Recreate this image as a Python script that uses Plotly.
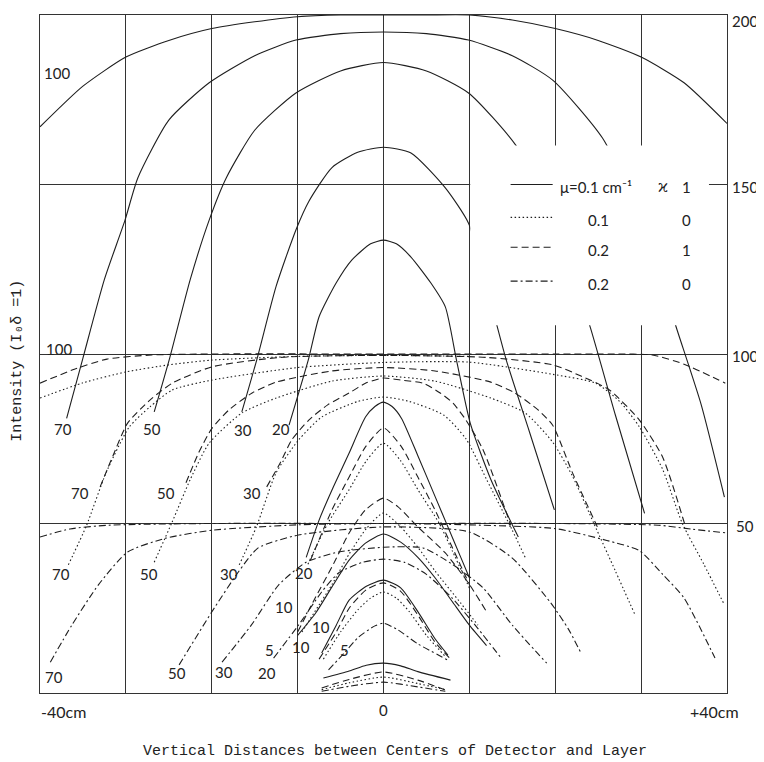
import plotly.graph_objects as go

# ---------------- data (x in cm, value = intensity on chart scale) ----------------
# upper solid family (mu=0.1, kappa=1)
U100_x = [-40, -35, -30, -25, -20, -15, -10, -5, 0, 5, 10, 15, 20, 25, 30, 35, 40]
U100_v = [167, 179, 187.6, 192.5, 196, 198, 199.5, 200, 200, 200, 200, 198.5, 196, 192.5, 187.6, 180, 168]
U70_x = [-36.9, -35, -32.5, -30.1, -28.6, -25, -20.3, -15, -10.2, -5, 0, 5, 9.9, 15, 19.7, 25.5, 30, 34.2, 37, 39.7]
U70_v = [81, 98.8, 122, 139.5, 152, 169, 180, 188, 192.6, 194.5, 195, 194.5, 192.6, 188, 180.8, 163.7, 140, 107, 85, 57.8]
U50_x = [-26.7, -24.9, -22.5, -20.3, -18.3, -15, -10.2, -5, 0, 5, 9.9, 15.4, 20, 24.1, 27, 30.4]
U50_v = [82.9, 98.8, 122, 139.5, 152, 166, 177, 183.5, 186, 183.5, 177, 161.6, 140, 107.7, 82, 53]
U30_x = [-16.5, -14.7, -12.5, -10.2, -8.7, -6, -3, 0, 3.2, 7.2, 9.9, 12, 14.3, 17, 19.9]
U30_v = [82.9, 98.8, 120, 136.6, 145, 155, 159.5, 161, 159.3, 149, 138.6, 120, 98.2, 77, 54]
U20_x = [-11, -8.7, -7.5, -5.5, -3.7, -1.5, 0, 1.5, 3.2, 5.5, 7.2, 8.5, 10.1, 12.5, 15.7]
U20_v = [79, 98.8, 111, 121, 127.7, 132.5, 133.6, 132.5, 128.6, 121, 113.9, 98.2, 79.6, 63, 46]

# middle family: dashed (mu=0.2, kappa=1) and dotted (mu=0.1, kappa=0)
DA100_x = [-40, -36, -32.2, -27, -20, 0, 20, 27, 31.3, 35, 39.8]
DA100_v = [91.4, 95.5, 98.5, 99.7, 100, 100, 100, 100, 99.7, 97, 91.4]
DT100_x = [-40, -35, -30, -25, -20, -10, 0, 10]
DT100_v = [87, 91.5, 94.7, 96.8, 98.2, 99.3, 99.6, 99.3]
DA70_x = [-33, -31.5, -29.8, -27.2, -24.6, -20, -12, 0, 12, 19.7, 23, 26.3, 29.8, 32.5, 35.1]
DA70_v = [60.8, 70, 79.6, 86.4, 91.4, 96.2, 99, 99.6, 99, 96.8, 93.5, 89.4, 80.5, 69.6, 49.6]
DT70_x = [-36.7, -34.6, -32.3, -29.6, -27.2, -24.6, -20, -10, 0, 10, 19.7, 24.7, 27.5, 29.8, 32.5, 34.8, 37.3, 39.7]
DT70_v = [37.8, 49.3, 65, 78.5, 84.4, 89.4, 92.3, 96, 97.5, 97.6, 94, 91.4, 86, 78.5, 66, 50, 38, 26]
DA50_x = [-23, -21.5, -20, -18, -15.3, -12.5, -6, 0, 6, 12.5, 15.3, 18, 19.7, 22, 24.9]
DA50_v = [62, 71, 78, 83.5, 88.5, 91.7, 95, 96, 95, 91.7, 88.5, 83.5, 79, 65, 49]
DT50_x = [-26.7, -24.6, -22.5, -20.3, -16.5, -12.5, -6, 0, 6, 12.5, 16.5, 19.7, 22, 24.5, 27, 29.3]
DT50_v = [38.6, 50.5, 63, 73.7, 82.6, 87, 92, 93.5, 92, 87, 82.6, 74, 64, 50, 36, 23]
DA30_x = [-13.6, -12, -10.7, -8.7, -6.5, -4, -2, 0, 2, 4.6, 6.6, 8.1, 9.6, 11.6, 14.8]
DA30_v = [60.8, 68, 74.6, 80.5, 85, 88.5, 91.5, 92.9, 92.3, 91.4, 88.5, 85.5, 80.5, 71.7, 49.6]
DT30_x = [-16.8, -14.8, -12.5, -9.9, -7.2, -3, 0, 3, 7, 9.6, 12, 15, 16.5]
DT30_v = [37.8, 49, 65, 74.6, 81.4, 86, 87.3, 86, 82, 75, 63, 48, 40]

# sharp central curves
S1_x = [-9, -7.5, -6, -4, -2.1, -1, 0, 1, 2.1, 4, 6, 7.5, 9, 10]
S1_v = [40, 51, 59.9, 70.8, 81.4, 84.5, 85.8, 84.5, 81, 70, 58, 49, 40, 34]
D1_x = [-8.5, -6, -4, -2.1, 0, 2.1, 4, 6, 8, 10]
D1_v = [39.2, 54, 63.7, 72.6, 78.2, 72.6, 63.7, 54, 43, 32]
T1_x = [-8.8, -6.5, -4, -2, 0, 2, 4, 6.5, 8, 10]
T1_v = [38, 50, 60, 68.5, 73.7, 68.5, 60, 50, 42, 31]
D2_x = [-10, -7.9, -6, -4, -2.1, 0, 1.7, 4, 7.2, 9.9, 12]
D2_v = [18, 28.3, 37.2, 47.2, 54, 57.5, 54.9, 49, 41.3, 32.4, 24]
T2_x = [-9.5, -8, -6, -4, -2, 0, 2, 4, 6, 9, 11]
T2_v = [18, 24, 32, 41, 48.5, 53.1, 49, 43, 36, 26.5, 20]
S2_x = [-10, -7.9, -6, -4, -2.1, 0, 2, 4, 6, 8, 10, 12]
S2_v = [17, 23.6, 31.3, 39.2, 44.2, 46.9, 44.5, 40, 34, 27, 20, 14]
S3_x = [-7.2, -5.5, -4, -2, 0, 2, 4, 6, 7.5]
S3_v = [11.8, 20, 27.4, 31.5, 33.3, 31, 24, 16, 11.2]
D3_x = [-7.5, -5.5, -4, -2, 0, 2, 4, 6, 7.8]
D3_v = [10, 18, 25, 30.5, 32.5, 30, 23, 15, 10]
T3_x = [-7, -5, -3, -1.5, 0, 1.5, 3, 5, 7.3]
T3_v = [10, 18, 24.5, 28, 29.8, 28, 24, 17, 10.5]
S4_x = [-7, -4, -2, 0, 2, 4, 7.8]
S4_v = [4.4, 6.5, 8.2, 8.8, 8, 6.3, 3.8]
D4_x = [-7.2, -4, 0, 4, 7.2]
D4_v = [1.5, 4, 6.2, 3.8, 0.9]
T4_x = [-7.2, -4, 0, 4, 7.2]
T4_v = [1.0, 3.0, 4.7, 2.8, 1.0]
DD4_x = [-7.2, -4, 0, 4, 7.2]
DD4_v = [0.5, 2.0, 3.2, 1.8, 0.5]

# lower dash-dot family (mu=0.2, kappa=0)
DD100_x = [-40, -36.5, -32, -20, 0, 20, 32, 36, 40]
DD100_v = [46, 48.4, 49.5, 50, 50, 50, 49.5, 48.3, 47.2]
DD70_x = [-38.8, -36.3, -33.2, -29.8, -25.3, -20, -10, 0, 10, 20, 26, 29.8, 32.5, 35, 38.6]
DD70_v = [9.1, 20, 31.9, 41.6, 45.7, 48, 49.6, 50, 49.6, 48.5, 45, 42, 35, 28, 10.3]
DD50_x = [-23.8, -20, -16.9, -14.6, -9.9, 0, 10, 15, 19.5, 21.5, 23]
DD50_v = [8.3, 23.9, 35.7, 42.8, 46.6, 49, 47.5, 39.8, 26.5, 19, 11.8]
DD30_x = [-18.8, -15.4, -12.2, -9, -5.2, 0, 4.6, 8, 11.6, 15, 19]
DD30_v = [9.1, 20, 31.9, 38.6, 41.6, 43, 42.8, 38, 31, 20, 8.8]
DD20_x = [-12.8, -9.9, -7.2, -5.2, -2.5, 0, 2.5, 5, 8, 11, 13.7]
DD20_v = [10.3, 20, 29.8, 35.5, 38.5, 39.5, 38.5, 35, 28, 19, 10.3]
DD10_x = [-6.4, -4.5, -2.9, -1, 0, 1.7, 4, 7.5]
DD10_v = [6.8, 12, 16.5, 19.8, 20.6, 18.6, 14.5, 9.7]

# curve labels: text, x (cm), value
LAB_T = ["100", "100", "70", "50", "30", "20", "70", "50", "30", "70", "50", "30", "20",
         "10", "10", "10", "5", "5", "70", "50", "30", "20"]
LAB_X = [-38.0, -37.8, -37.3, -27.0, -16.4, -11.9, -35.4, -25.3, -15.3, -37.5, -27.3, -18.0, -9.3,
         -11.6, -7.3, -9.6, -13.3, -4.6, -38.4, -24.0, -18.6, -13.6]
LAB_V = [183, 101.5, 78, 78, 77.5, 78, 59, 59, 59, 35, 35, 35, 35.5,
         25.5, 19.5, 13.5, 12.8, 12.8, 4.8, 6, 6.2, 6]

RIGHT_TICKS = [200, 150, 100, 50]

INK = "#1e1e1e"
SOLID = dict(color=INK, width=1.1)
DOT = dict(color=INK, width=1.1, dash="1.5px,2.5px")
DASH = dict(color=INK, width=1.1, dash="7px,4px")
DDOT = dict(color=INK, width=1.1, dash="7px,3px,2px,3px")

fig = go.Figure()


def add(x, v, style):
    fig.add_trace(go.Scatter(x=x, y=v, mode="lines", line=dict(style, shape="spline", smoothing=0.6),
                             hoverinfo="skip", showlegend=False))


for xs, vs in [(U100_x, U100_v), (U70_x, U70_v), (U50_x, U50_v), (U30_x, U30_v), (U20_x, U20_v),
               (S1_x, S1_v), (S2_x, S2_v), (S3_x, S3_v), (S4_x, S4_v)]:
    add(xs, vs, SOLID)
for xs, vs in [(DA100_x, DA100_v), (DA70_x, DA70_v), (DA50_x, DA50_v), (DA30_x, DA30_v),
               (D1_x, D1_v), (D2_x, D2_v), (D3_x, D3_v), (D4_x, D4_v)]:
    add(xs, vs, DASH)
for xs, vs in [(DT100_x, DT100_v), (DT70_x, DT70_v), (DT50_x, DT50_v), (DT30_x, DT30_v),
               (T1_x, T1_v), (T2_x, T2_v), (T3_x, T3_v), (T4_x, T4_v)]:
    add(xs, vs, DOT)
for xs, vs in [(DD100_x, DD100_v), (DD70_x, DD70_v), (DD50_x, DD50_v), (DD30_x, DD30_v),
               (DD20_x, DD20_v), (DD10_x, DD10_v), (DD4_x, DD4_v)]:
    add(xs, vs, DDOT)

LABEL_FONT = dict(family="Lato, Liberation Sans, sans-serif", size=15, color="#222")
for t, x, v in zip(LAB_T, LAB_X, LAB_V):
    fig.add_annotation(x=x, y=v, text=t, showarrow=False, font=LABEL_FONT)

# right-hand value labels
for tv in RIGHT_TICKS:
    fig.add_annotation(x=1.0, xref="paper", y=tv, yref="y", text=str(tv), showarrow=False,
                       xanchor="center", xshift=18, yshift=-2 if tv < 200 else -6,
                       font=dict(LABEL_FONT, size=15))

# x tick labels
fig.add_annotation(x=-37.3, y=-0.028, yref="paper", text="-40cm", showarrow=False, yanchor="middle",
                   font=dict(LABEL_FONT, size=16))
fig.add_annotation(x=0, y=-0.025, yref="paper", text="0", showarrow=False, yanchor="middle", font=LABEL_FONT)
fig.add_annotation(x=38.6, y=-0.028, yref="paper", text="+40cm", showarrow=False, yanchor="middle",
                   font=dict(LABEL_FONT, size=16))

MONO = dict(family="Liberation Mono, DejaVu Sans Mono, monospace", size=15, color="#222")
fig.add_annotation(x=0.517, xref="paper", y=-0.087, yref="paper", yanchor="middle",
                   text="Vertical Distances between Centers of Detector and Layer", showarrow=False,
                   font=MONO)
fig.add_annotation(x=-0.032, xref="paper", xanchor="center", y=0.49, yref="paper", textangle=-90,
                   text="Intensity (I\u2080\u03b4 =1)", showarrow=False, font=MONO)

# legend area (white patch covering curves and grid) with samples
fig.add_shape(type="rect", x0=10.1, x1=37.9, y0=108.5, y1=161.5, fillcolor="white",
              line=dict(width=0), layer="above")
LEG_Y = [150, 140.3, 131.5, 121.5]
LEG_STYLE = [SOLID, DOT, DASH, DDOT]
LEG_MU = ["\u03bc=0.1 cm\u207b\u00b9", "0.1", "0.2", "0.2"]
LEG_K = ["1", "0", "1", "0"]
for yv, st, mu, k in zip(LEG_Y, LEG_STYLE, LEG_MU, LEG_K):
    fig.add_shape(type="line", x0=14.8, x1=19.7, y0=yv, y1=yv, line=st, layer="above")
    fig.add_annotation(x=20.3 if mu.startswith("\u03bc") else 25.0, y=yv - 0.8, text=mu, showarrow=False,
                       xanchor="left" if mu.startswith("\u03bc") else "center", font=LABEL_FONT)
    fig.add_annotation(x=35.3, y=yv - 0.8, text=k, showarrow=False, font=LABEL_FONT)
fig.add_annotation(x=32.6, y=149.5, text="\u03f0", showarrow=False,
                   font=dict(family="DejaVu Serif, serif", size=16, color="#222"))

# the page adds an 8px body margin, so the figure is 8px smaller than the window
fig.update_layout(
    width=756, height=754,
    margin=dict(l=32, r=37, t=7, b=69),
    paper_bgcolor="white", plot_bgcolor="white",
    xaxis=dict(range=[-40, 40], tickvals=[-30, -20, -10, 0, 10, 20, 30], showticklabels=False,
               showgrid=True, gridcolor="#333", gridwidth=1, zeroline=False,
               showline=True, linecolor="#333", linewidth=1, mirror=True, ticks=""),
    yaxis=dict(range=[0, 200], tickvals=[50, 100, 150], showticklabels=False,
               showgrid=True, gridcolor="#333", gridwidth=1, zeroline=False,
               showline=True, linecolor="#333", linewidth=1, mirror=True, ticks=""),
)

fig.write_html("out.html")
